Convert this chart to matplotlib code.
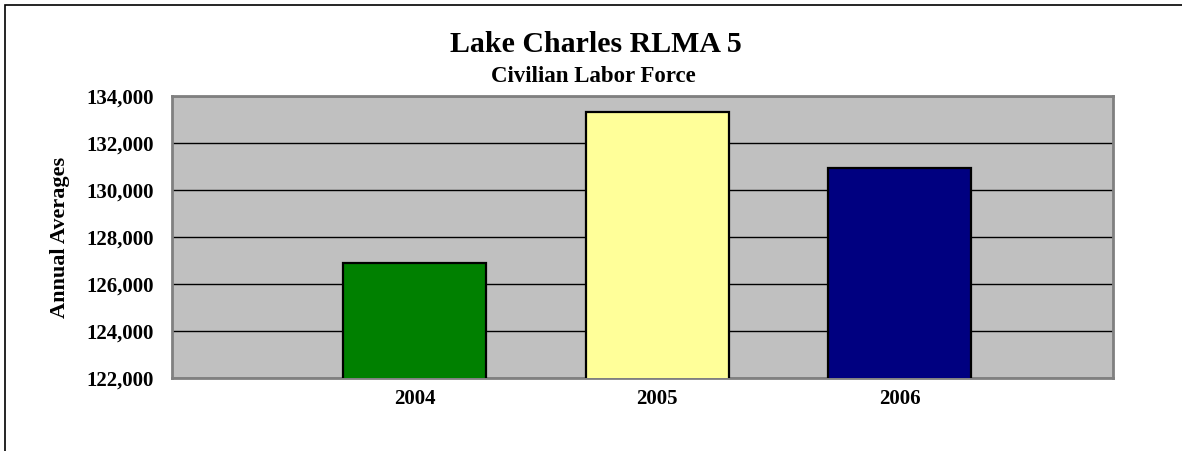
import matplotlib.pyplot as plt
from matplotlib.patches import Rectangle
from matplotlib.ticker import FuncFormatter

# dane
years = ["2004", "2005", "2006"]
labor_force = [126880, 133300, 130930]
bar_colors = ["#008000", "#FFFF99", "#000080"]
y_ticks = [122000, 124000, 126000, 128000, 130000, 132000, 134000]

plt.rcParams["font.family"] = ["Liberation Serif", "DejaVu Serif"]
plt.rcParams["font.weight"] = "bold"

fig = plt.figure(figsize=(11.82, 4.51), dpi=100)
ax = fig.add_axes([172 / 1182, 1 - 378 / 451, 941 / 1182, 282 / 451])

ax.set_facecolor("#C0C0C0")
x = list(range(len(years)))
ax.bar(x, labor_force, width=0.59, color=bar_colors, edgecolor="black",
       linewidth=1.6, zorder=3)

ax.set_ylim(y_ticks[0], y_ticks[-1])
ax.set_xlim(-1.0, 2.88)
ax.set_yticks(y_ticks)
ax.yaxis.set_major_formatter(FuncFormatter(lambda v, p: f"{int(v):,}"))
ax.set_xticks(x)
ax.set_xticklabels(years)
ax.tick_params(axis="both", length=0, labelsize=15)
ax.tick_params(axis="y", pad=13)
ax.tick_params(axis="x", pad=8)
ax.grid(axis="y", color="black", linewidth=1, zorder=1)

for s in ax.spines.values():
    s.set_color("#808080")
    s.set_linewidth(2)

ax.set_ylabel("Annual Averages", fontsize=16, fontweight="bold", labelpad=12)

fig.text(596 / 1182, 1 - 44 / 451, "Lake Charles RLMA 5", fontsize=21.5,
         fontweight="bold", ha="center", va="center")
fig.text(593 / 1182, 1 - 76 / 451, "Civilian Labor Force", fontsize=16.5,
         fontweight="bold", ha="center", va="center")

# ramka wokol calego wykresu
fig.patches.append(Rectangle((5 / 1182, -0.1), 1.1, 1 - 5 / 451 + 0.1,
                             transform=fig.transFigure, fill=False,
                             edgecolor="black", linewidth=1.2))

fig.savefig("out.png", dpi=100)
